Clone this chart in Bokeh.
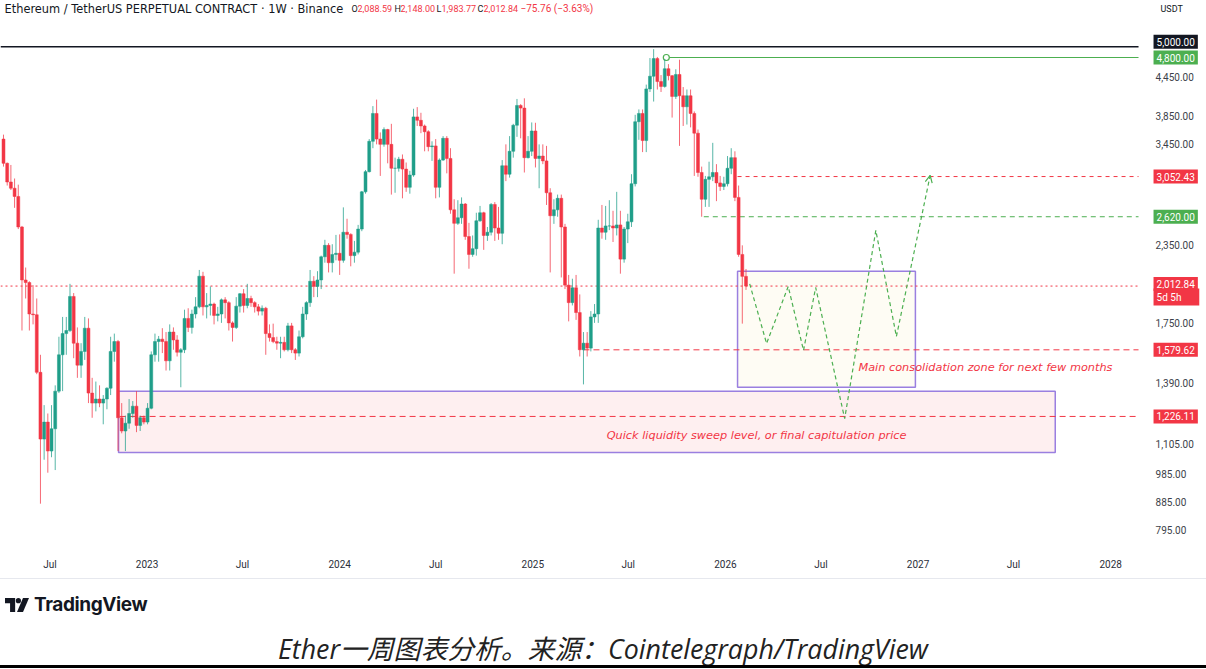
import numpy as np
import pandas as pd
from bokeh.plotting import figure
from bokeh.models import (Range1d, FixedTicker, CustomJSTickFormatter,
                          Label, Div, Arrow, OpenHead)
from bokeh.layouts import column
from bokeh.embed import file_html
from bokeh.resources import INLINE

# ---------------- data (weekly ETH/USDT perpetual, Binance) ----------------
first_week = "2022-04-04"
opens = [3520, 3210, 2990, 2920, 2830, 2520, 2060, 2040, 1810, 1805,
         1450, 1125, 1200, 1075, 1170, 1350, 1550, 1680, 1700, 1935,
         1620, 1490, 1570, 1715, 1340, 1290, 1310, 1290, 1310, 1365,
         1570, 1630, 1220, 1160, 1195, 1240, 1275, 1185, 1220, 1200,
         1265, 1550, 1630, 1645, 1630, 1515, 1690, 1640, 1565, 1580,
         1780, 1720, 1810, 1860, 2090, 1860, 1870, 1880, 1800, 1810,
         1910, 1890, 1750, 1720, 1865, 1955, 1870, 1920, 1890, 1860,
         1830, 1850, 1680, 1655, 1630, 1620, 1625, 1580, 1730, 1580,
         1560, 1660, 1810, 1890, 2050, 2010, 2060, 2250, 2350, 2200,
         2270, 2280, 2220, 2470, 2450, 2260, 2290, 2500, 2880, 3110,
         3490, 3880, 3520, 3450, 3650, 3450, 3150, 3150, 3260, 3140,
         2930, 3070, 3830, 3780, 3700, 3620, 3420, 3430, 2930, 3250,
         3530, 3270, 2690, 2555, 2610, 2750, 2430, 2270, 2320, 2580,
         2660, 2440, 2470, 2745, 2510, 2460, 3180, 3080, 3360, 3710,
         4000, 3960, 3280, 3360, 3630, 3270, 3300, 3240, 2870, 2630,
         2690, 2810, 2520, 2020, 1890, 2000, 1820, 1580, 1620, 1590,
         1790, 1810, 2510, 2470, 2530, 2530, 2510, 2540, 2230, 2500,
         2570, 2970, 3760, 3880, 3500, 4260, 4470, 4780, 4380, 4300,
         4600, 4480, 4140, 4500, 4150, 3980, 4150, 3880, 3600, 3100,
         2800, 3020, 3050, 3100, 2980, 2940, 2970, 3150, 3280, 2820,
         2270, 2088.59]
highs = [3580, 3220, 3190, 3030, 2960, 2530, 2160, 2050, 2020, 1920,
         1550, 1280, 1240, 1280, 1380, 1660, 1790, 1790, 2030, 1960,
         1720, 1620, 1790, 1780, 1420, 1400, 1380, 1330, 1370, 1660,
         1680, 1640, 1290, 1230, 1310, 1300, 1350, 1230, 1230, 1290,
         1570, 1680, 1665, 1715, 1690, 1740, 1720, 1670, 1590, 1840,
         1850, 1840, 1930, 2140, 2125, 1960, 2010, 1890, 1860, 1920,
         1930, 1900, 1760, 1930, 1960, 1990, 2030, 1940, 1900, 1880,
         1870, 1860, 1740, 1745, 1660, 1660, 1660, 1750, 1750, 1590,
         1700, 1860, 1900, 2140, 2090, 2130, 2260, 2400, 2370, 2360,
         2445, 2450, 2715, 2600, 2460, 2390, 2540, 2890, 3130, 3520,
         3990, 4090, 3610, 3680, 3660, 3730, 3280, 3290, 3320, 3220,
         3120, 3950, 3975, 3890, 3720, 3640, 3490, 3520, 3270, 3560,
         3560, 3400, 2800, 2790, 2820, 2760, 2560, 2440, 2660, 2730,
         2670, 2520, 2760, 2770, 2720, 3250, 3450, 3560, 3730, 4100,
         4020, 4110, 3560, 3750, 3745, 3450, 3450, 3430, 2920, 2800,
         2850, 2850, 2550, 2100, 2070, 2100, 1950, 1690, 1690, 1830,
         1880, 2590, 2740, 2730, 2790, 2680, 2880, 2680, 2520, 2650,
         3080, 3860, 3940, 3940, 4330, 4790, 4955, 4810, 4490, 4770,
         4680, 4490, 4590, 4760, 4290, 4250, 4250, 3910, 3650, 3170,
         3060, 3230, 3470, 3200, 3060, 3050, 3300, 3400, 3360, 2950,
         2350, 2148.00]
lows = [3170, 2950, 2900, 2710, 2500, 1700, 1920, 1700, 1740, 1440,
        880, 1040, 990, 1050, 1000, 1340, 1350, 1550, 1690, 1530,
        1420, 1420, 1520, 1290, 1220, 1250, 1270, 1190, 1260, 1330,
        1510, 1075, 1150, 1075, 1170, 1220, 1155, 1160, 1190, 1190,
        1260, 1510, 1510, 1560, 1460, 1460, 1580, 1540, 1370, 1560,
        1690, 1680, 1780, 1850, 1800, 1780, 1800, 1740, 1760, 1750,
        1780, 1700, 1630, 1710, 1820, 1820, 1850, 1860, 1820, 1800,
        1800, 1550, 1630, 1620, 1580, 1530, 1570, 1570, 1560, 1520,
        1540, 1650, 1770, 1860, 1930, 1930, 1990, 2200, 2120, 2120,
        2220, 2100, 2200, 2410, 2170, 2200, 2270, 2480, 2860, 3100,
        3400, 3450, 3060, 3420, 3210, 2850, 2870, 3110, 2810, 2880,
        2860, 3050, 3700, 3600, 3360, 3360, 3240, 2810, 2820, 3240,
        3090, 2650, 2110, 2540, 2550, 2400, 2150, 2250, 2260, 2570,
        2310, 2390, 2440, 2390, 2400, 2360, 3000, 3040, 3280, 3550,
        3530, 3100, 3270, 3300, 3160, 2920, 3200, 2740, 2120, 2550,
        2620, 2080, 1990, 1760, 1870, 1770, 1540, 1385, 1540, 1570,
        1750, 1750, 2410, 2400, 2490, 2380, 2440, 2110, 2200, 2370,
        2520, 2940, 3510, 3350, 3350, 4210, 4060, 4250, 4210, 4280,
        4400, 3820, 4100, 3430, 3700, 3720, 3680, 3060, 3050, 2620,
        2720, 2720, 3000, 2780, 2890, 2900, 2940, 3080, 2780, 2250,
        1745, 1983.77]
closes = [3210, 2990, 2920, 2830, 2520, 2060, 2040, 1810, 1805, 1450,
          1125, 1200, 1075, 1170, 1350, 1550, 1680, 1700, 1935, 1620,
          1490, 1570, 1715, 1340, 1290, 1310, 1290, 1310, 1365, 1570,
          1630, 1220, 1160, 1195, 1240, 1275, 1185, 1220, 1200, 1265,
          1550, 1630, 1645, 1630, 1515, 1690, 1640, 1565, 1580, 1780,
          1720, 1810, 1860, 2090, 1860, 1870, 1880, 1800, 1810, 1910,
          1890, 1750, 1720, 1865, 1955, 1870, 1920, 1890, 1860, 1830,
          1850, 1680, 1655, 1630, 1620, 1625, 1580, 1730, 1580, 1560,
          1660, 1810, 1890, 2050, 2010, 2060, 2250, 2350, 2200, 2270,
          2280, 2220, 2470, 2450, 2260, 2290, 2500, 2880, 3110, 3490,
          3880, 3520, 3450, 3650, 3450, 3150, 3150, 3260, 3140, 2930,
          3070, 3830, 3780, 3700, 3620, 3420, 3430, 2930, 3250, 3530,
          3270, 2690, 2555, 2610, 2750, 2430, 2270, 2320, 2580, 2660,
          2440, 2470, 2745, 2510, 2460, 3180, 3080, 3360, 3710, 4000,
          3960, 3280, 3360, 3630, 3270, 3300, 3240, 2870, 2630, 2690,
          2810, 2520, 2020, 1890, 2000, 1820, 1580, 1620, 1590, 1790,
          1810, 2510, 2470, 2530, 2530, 2510, 2540, 2230, 2500, 2570,
          2970, 3760, 3880, 3500, 4260, 4470, 4780, 4380, 4300, 4600,
          4480, 4140, 4500, 4150, 3980, 4150, 3880, 3600, 3100, 2800,
          3020, 3050, 3100, 2980, 2940, 2970, 3150, 3280, 2820, 2270,
          2088.60, 2012.84]

# horizontal levels drawn on the chart (price, start date or None = full width)
levels = [5000.00, 4800.00, 3052.43, 2620.00, 2012.84, 1579.62, 1226.11]
level_starts = [None, "2025-09-11", "2026-01-24", "2025-11-21", None, "2025-04-07", "2022-11-10"]

# zones (liquidity sweep box, consolidation box)
box_left = ["2022-11-08", "2026-01-24"]
box_right = ["2027-09-18", "2026-12-27"]
box_top = [1350, 2130]
box_bottom = [1069, 1370]

# projected path
proj_dates = ["2026-02-16", "2026-03-20", "2026-04-30", "2026-05-29", "2026-06-21",
              "2026-08-15", "2026-10-13", "2026-11-21", "2027-01-24"]
proj_prices = [2030, 1618, 2010, 1576, 2002, 1216, 2487, 1662, 3065]

# axes
y_ticks = [795, 885, 985, 1105, 1390, 1750, 2350, 3450, 3850, 4450]
x_tick_dates = ["2022-07-01", "2023-01-01", "2023-07-01", "2024-01-01", "2024-07-01",
                "2025-01-01", "2025-07-01", "2026-01-01", "2026-07-01", "2027-01-01",
                "2027-07-01", "2028-01-01"]
x_tick_labels = ["Jul", "2023", "Jul", "2024", "Jul", "2025", "Jul", "2026", "Jul",
                 "2027", "Jul", "2028"]

zone_texts = ["Main consolidation zone for next few months",
              "Quick liquidity sweep level, or final capitulation price"]
zone_text_dates = ["2026-09-10", "2025-05-21"]
zone_text_prices = [1477, 1140]

title_text = "Ethereum / TetherUS PERPETUAL CONTRACT · 1W · Binance"
countdown = "5d 5h"
caption = "Ether一周图表分析。来源：Cointelegraph/TradingView"

# ---------------- styles / layout ----------------
UP = "#1f9e89"
DN = "#f23645"
GREEN = "#4caf50"
PURPLE = "#9a7fe0"
FONT = "Roboto"
WIDE = "DejaVu Sans"
W, H = 1206, 578
FRAME_BOTTOM = 550

def ms(d):
    return pd.Timestamp(d).value / 1e6

weeks = pd.date_range(first_week, periods=len(closes), freq="7D")
o = np.array(opens, float); h = np.array(highs, float)
l = np.array(lows, float); c = np.array(closes, float)
up = c >= o
wk = 7 * 24 * 3600 * 1000.0
t0 = ms(first_week)
x0 = t0 - 0.812 * wk
x1 = t0 + 325.66 * wk
chart_end = t0 + 307.26 * wk

p = figure(width=W, height=H, x_axis_type="datetime", y_axis_type="log",
           x_range=Range1d(x0, x1), y_range=Range1d(736.5, 5961.7),
           y_axis_location=None, toolbar_location=None, output_backend="svg",
           min_border_left=0, min_border_right=0, min_border_top=0, min_border_bottom=H - FRAME_BOTTOM)
p.xgrid.visible = False
p.ygrid.visible = False
p.outline_line_color = None
p.background_fill_color = "white"

# zones
p.quad(left=[ms(box_left[0])], right=[ms(box_right[0])], top=[box_top[0]], bottom=[box_bottom[0]],
       fill_color=DN, fill_alpha=0.08, line_color=PURPLE, line_width=1.5)
p.quad(left=[ms(box_left[1])], right=[ms(box_right[1])], top=[box_top[1]], bottom=[box_bottom[1]],
       fill_color="#fbf3d5", fill_alpha=0.25, line_color=PURPLE, line_width=1.5)

# level lines
level_color = ["#131722", GREEN, DN, GREEN, DN, DN, DN]
level_dash = ["solid", "solid", "4 4", "5 4", "2 3", "6 4", "6 4"]
level_width = [1.5, 1, 1, 1, 1, 1, 1]
for lv, st, col, ds, lw in zip(levels, level_starts, level_color, level_dash, level_width):
    xs = x0 if st is None else ms(st)
    p.segment(x0=[xs], y0=[lv], x1=[chart_end], y1=[lv], line_color=col,
              line_dash=ds, line_width=lw)
p.scatter(x=[ms(level_starts[1])], y=[levels[1]], size=6, marker="circle",
          fill_color="white", line_color=GREEN, line_width=1.2)

# candles
p.segment(x0=weeks[up], y0=h[up], x1=weeks[up], y1=l[up], line_color=UP, line_width=1, line_alpha=0.75)
p.segment(x0=weeks[~up], y0=h[~up], x1=weeks[~up], y1=l[~up], line_color=DN, line_width=1, line_alpha=0.75)
p.vbar(x=weeks[up], width=0.8 * wk, top=c[up], bottom=o[up], fill_color=UP, line_color=UP, line_width=0.5)
p.vbar(x=weeks[~up], width=0.8 * wk, top=o[~up], bottom=c[~up], fill_color=DN, line_color=DN, line_width=0.5)

# projection path
pd_ms = [ms(d) for d in proj_dates]
p.line(pd_ms, proj_prices, line_color=GREEN, line_dash="4 3", line_width=1.2)
p.add_layout(Arrow(end=OpenHead(size=7, line_color=GREEN, line_width=1.2),
                   x_start=pd_ms[-2], y_start=proj_prices[-2], x_end=pd_ms[-1], y_end=proj_prices[-1],
                   line_alpha=0))

# zone texts
for t, d, v in zip(zone_texts, zone_text_dates, zone_text_prices):
    p.add_layout(Label(x=ms(d), y=v, text=t, text_color=DN, text_font_size="11.3px",
                       text_font_style="italic", text_font=WIDE, text_baseline="middle"))

# x axis
p.xaxis.ticker = FixedTicker(ticks=[ms(d) for d in x_tick_dates])
p.xaxis.formatter = CustomJSTickFormatter(
    args=dict(tk=[ms(d) for d in x_tick_dates], lb=x_tick_labels),
    code="""
let best = ''; let bd = 1e99;
for (let i = 0; i < tk.length; i++) { const dd = Math.abs(tk[i] - tick); if (dd < bd) { bd = dd; best = lb[i]; } }
return best;""")
p.xaxis.axis_line_color = None
p.xaxis.major_tick_line_color = None
p.xaxis.minor_tick_line_color = None
p.xaxis.major_label_text_font_size = "10px"
p.xaxis.major_label_text_color = "#2a2e39"
p.xaxis.major_label_text_font = FONT
p.xaxis.major_label_standoff = 2

# price scale (right): tick labels
for tv in y_ticks:
    p.add_layout(Label(x=chart_end, y=tv, x_offset=17, text=f"{tv:,.2f}", text_color="#3c3f4a",
                       text_font_size="10px", text_font=FONT, text_baseline="middle"))

# price badges on the scale
badge_bg = ["#131722", GREEN, DN, GREEN, DN, DN, DN]
badge_off = [5, 0, 0, 0, 2, 0, 0]
for lv, bg, off in zip(levels, badge_bg, badge_off):
    p.add_layout(Label(x=chart_end, y=lv, x_offset=15, y_offset=off, text=f"{lv:,.2f}",
                       text_color="white", text_font_size="10px", text_font=FONT,
                       text_baseline="middle", background_fill_color=bg, padding=3))
p.add_layout(Label(x=chart_end, y=levels[4], x_offset=15, y_offset=-11, text=countdown + "      ",
                   text_color="white", text_font_size="10px", text_font=FONT,
                   text_baseline="middle", background_fill_color=DN, padding=3))

# header
chg = c[-1] - c[-2]
pct = chg / c[-2] * 100
HY = FRAME_BOTTOM - 8
p.add_layout(Label(x=4, x_units="screen", y=HY, y_units="screen", text=title_text,
                   text_color="#131722", text_font_size="11.4px", text_font=WIDE, text_baseline="middle"))
hdr = [("O", 351, "#131722", 9), (f"{o[-1]:,.2f}", 357, DN, 9),
       ("H", 394, "#131722", 9), (f"{h[-1]:,.2f}", 400, DN, 9),
       ("L", 436, "#131722", 9), (f"{l[-1]:,.2f}", 441, DN, 9),
       ("C", 477, "#131722", 9), (f"{c[-1]:,.2f}", 483, DN, 9),
       (f"{chg:+.2f} ({pct:+.2f}%)".replace("-", "−"), 520, DN, 10)]
for t, xx, col, fs in hdr:
    p.add_layout(Label(x=xx, x_units="screen", y=HY, y_units="screen", text=t, text_color=col,
                       text_font_size=f"{fs}px", text_font=FONT, text_baseline="middle"))
p.add_layout(Label(x=1160, x_units="screen", y=HY, y_units="screen", text="USDT", text_color="#131722",
                   text_font_size="9px", text_font=FONT, text_baseline="middle"))

logo_svg = ('<svg width="24" height="14" viewBox="0 0 26 15" style="vertical-align:-1px;margin-right:5px">'
            '<path d="M0 0 H11 V15 H5.5 V5.5 H0 Z" fill="#131722"/>'
            '<circle cx="14.5" cy="2.8" r="2.8" fill="#131722"/>'
            '<path d="M19.5 0 H26 L19.5 15 H13 Z" fill="#131722"/></svg>')
div = Div(width=W, height=90, margin=0, text=f"""
<div style="position:relative;width:{W}px;height:90px;border-top:1px solid #e6e8ee;box-sizing:border-box;">
  <div style="position:absolute;left:5px;top:12px;font-family:Inter,'Noto Sans',sans-serif;font-weight:700;font-size:19px;color:#131722;white-space:nowrap;letter-spacing:-0.4px;">{logo_svg}TradingView</div>
  <div style="position:absolute;left:0;top:54px;width:{W}px;text-align:center;font-family:'Open Sans','Noto Sans CJK SC',sans-serif;font-style:italic;font-size:26.8px;line-height:32px;color:#222;white-space:nowrap;">{caption}</div>
  <div style="position:absolute;left:0;top:86px;width:{W}px;height:3px;background:#000;"></div>
</div>""")

layout = column(p, div, spacing=0)
open("out.html", "w").write(file_html(layout, INLINE))
